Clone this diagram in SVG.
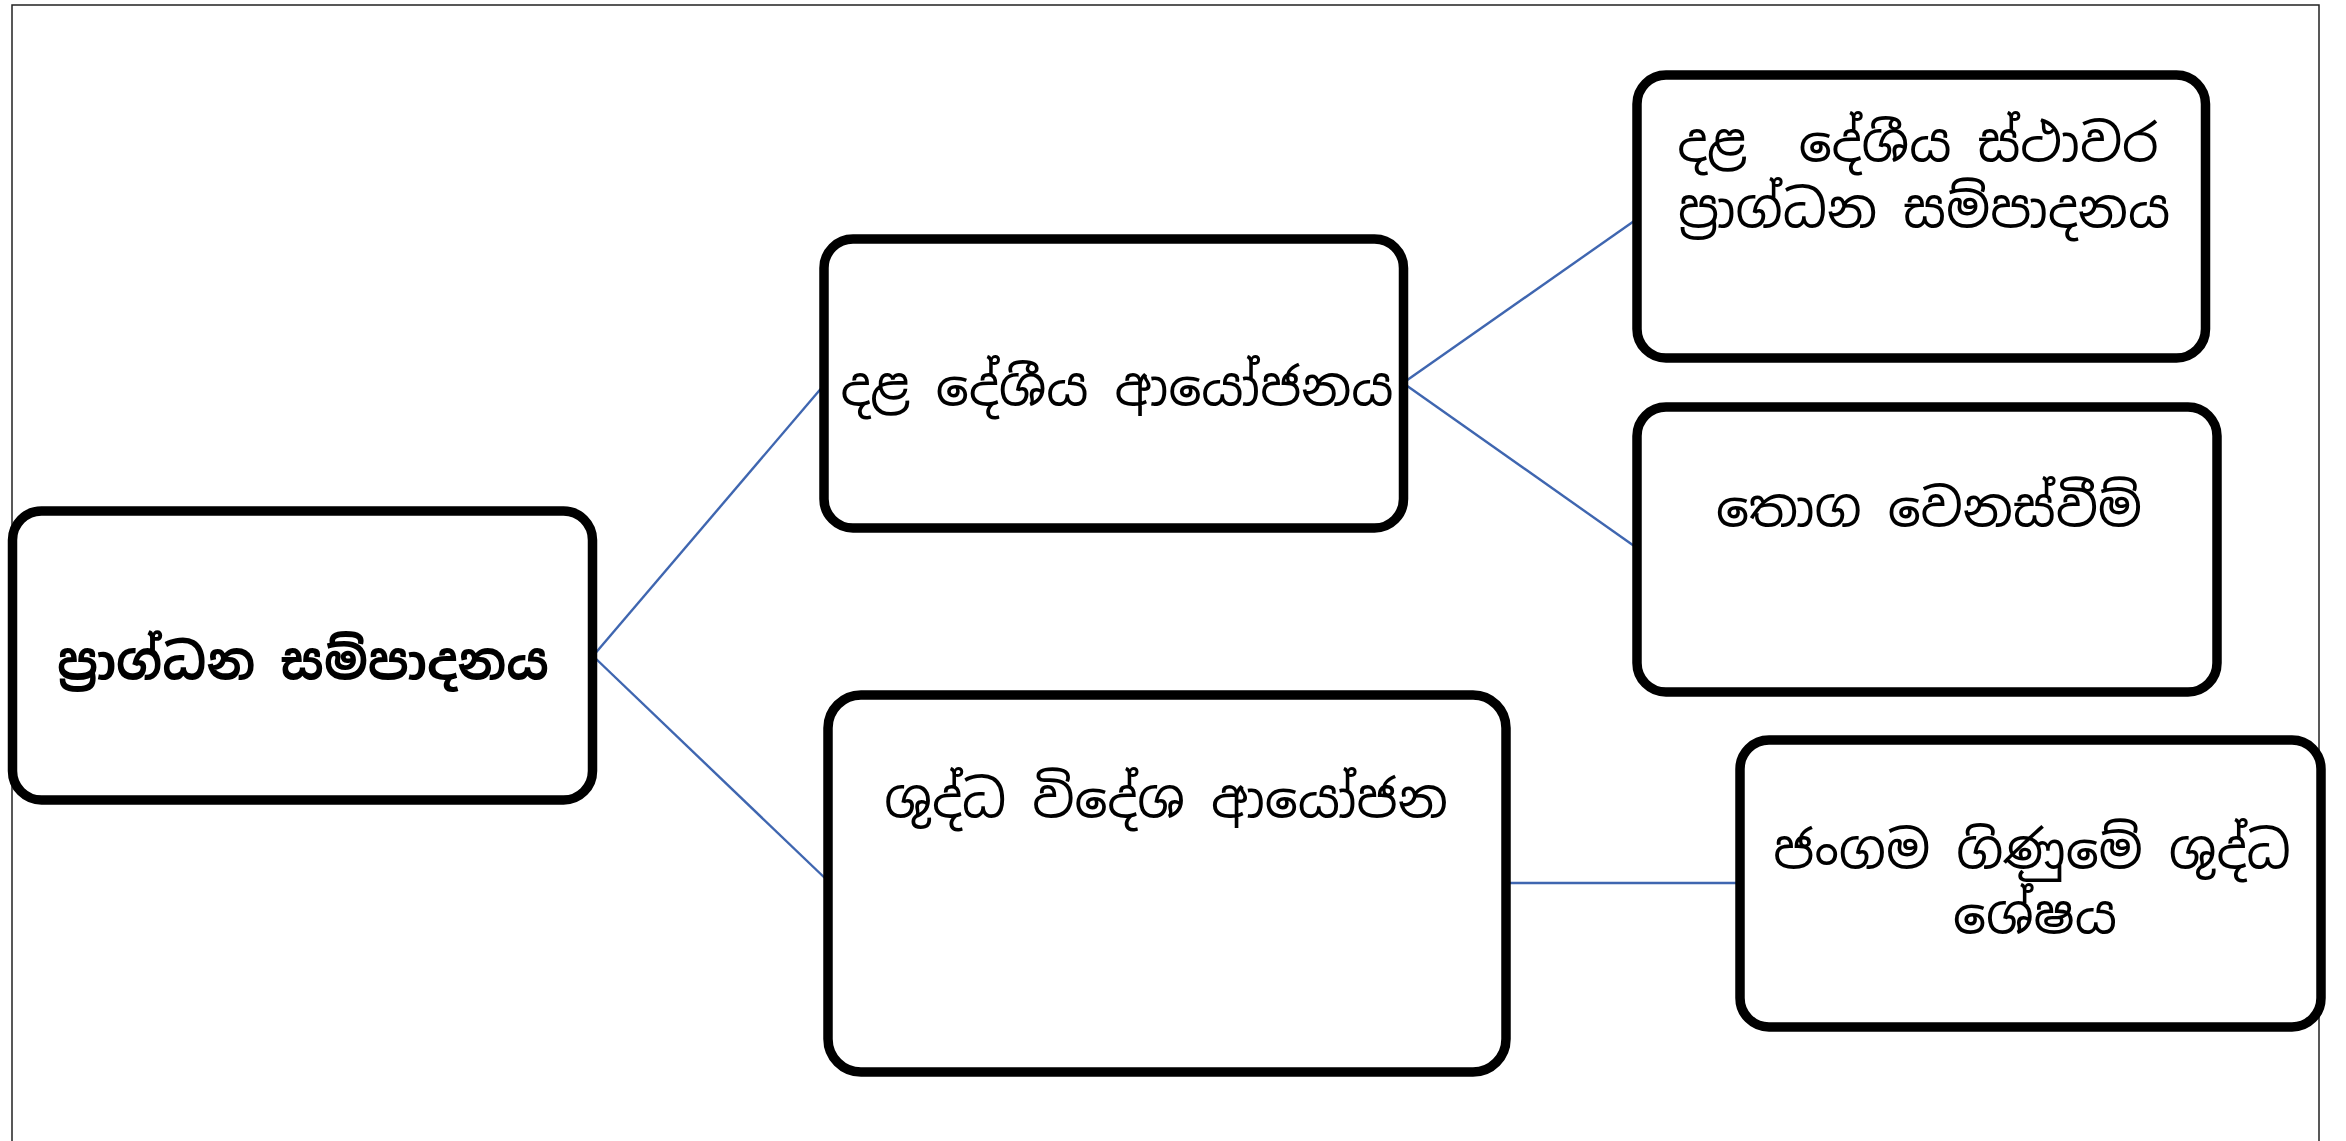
<svg xmlns="http://www.w3.org/2000/svg" width="2346" height="1141" viewBox="0 0 2346 1141">
<style>
.box{fill:#fff;stroke:#000;stroke-width:9.5}
.t{font-family:"Noto Sans Sinhala","Iskoola Pota","Noto Sans","DejaVu Sans",sans-serif;font-size:52px;fill:#000;text-anchor:middle}
.b{font-weight:bold;font-size:50px}
.c{stroke:#3F66B0;stroke-width:2.4;fill:none}
</style>
<rect width="2346" height="1141" fill="#fff"/>
<path d="M12,1145 V5 H2319 V1145" fill="none" stroke="#222" stroke-width="1.5"/>
<g id="connectors">
<line class="c" x1="593" y1="656" x2="824" y2="385"/>
<line class="c" x1="593" y1="656" x2="828" y2="881"/>
<line class="c" x1="1403" y1="383" x2="1637" y2="219"/>
<line class="c" x1="1403" y1="383" x2="1637" y2="548"/>
<line class="c" x1="1506" y1="883" x2="1740" y2="883"/>
</g>
<g id="n1"><rect class="box" x="12.5" y="511" width="580" height="289" rx="29"/>
<text class="t b" x="303" y="679">ප්‍රාග්ධන සම්පාදනය</text></g>
<g id="n2"><rect class="box" x="824" y="239" width="579.5" height="289" rx="29"/>
<text class="t" x="1117" y="405">දළ දේශීය ආයෝජනය</text></g>
<g id="n3"><rect class="box" x="1637" y="75" width="568.5" height="283" rx="29"/>
<text class="t" x="1918" y="161" xml:space="preserve">දළ  දේශීය ස්ථාවර</text>
<text class="t" x="1924" y="227" font-size="51">ප්‍රාග්ධන සම්පාදනය</text></g>
<g id="n4"><rect class="box" x="1637" y="407" width="580" height="285" rx="29"/>
<text class="t" x="1929" y="526">තොග වෙනස්වීම්</text></g>
<g id="n5"><rect class="box" x="828" y="695" width="678" height="377" rx="33"/>
<text class="t" x="1166" y="817">ශුද්ධ විදේශ ආයෝජන</text></g>
<g id="n6"><rect class="box" x="1740" y="740" width="581" height="287" rx="29"/>
<text class="t"><tspan x="2032" y="868">ජංගම ගිණුමේ ශුද්ධ</tspan><tspan x="2035" y="933">ශේෂය</tspan></text></g>
</svg>
